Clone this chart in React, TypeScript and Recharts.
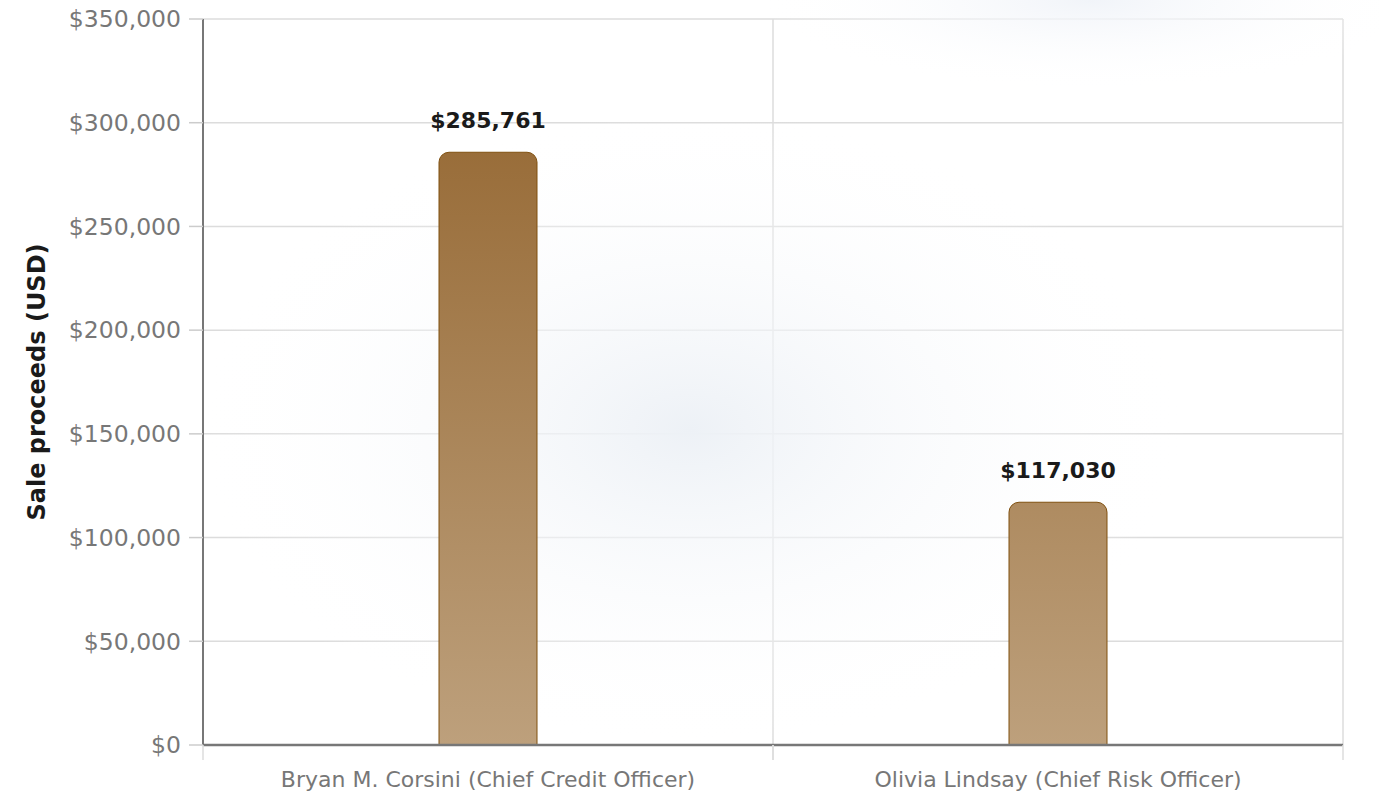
import { BarChart, Bar, CartesianGrid, XAxis, YAxis, LabelList } from "recharts";

const officers = [
    "Bryan M. Corsini (Chief Credit Officer)",
    "Olivia Lindsay (Chief Risk Officer)",
];
const proceeds = [285761, 117030];
const yTicks = [0, 50000, 100000, 150000, 200000, 250000, 300000, 350000];

const data = officers.map((name, i) => ({ name, proceeds: proceeds[i] }));

const money = (v: number) => `$${v.toLocaleString("en-US")}`;
const FONT = "DejaVu Sans, sans-serif";

// x tick: label in the middle, small tick marks at the band edges
function XTick(props: any) {
    const { x, y, payload } = props;
    const half = payload?.offset ?? 0;
    return (
        <g>
            <line x1={x - half} x2={x - half} y1={y - 8} y2={y + 7} stroke="#dddddd" strokeWidth={1.5} />
            <line x1={x + half} x2={x + half} y1={y - 8} y2={y + 7} stroke="#dddddd" strokeWidth={1.5} />
            <text x={x} y={y + 34} textAnchor="middle" fill="#777777" fontSize={22} fontFamily={FONT}>
                {payload.value}
            </text>
        </g>
    );
}

export default function App() {
    return (
        <div style={{ position: "absolute", left: 0, top: 0, width: 1380, height: 808, background: "#ffffff", overflow: "hidden" }}>
            <BarChart
                width={1380}
                height={808}
                data={data}
                margin={{ top: 19, right: 37, bottom: 0, left: 0 }}
                barCategoryGap={0}
            >
                <defs>
                    <radialGradient
                        id="bgGlow"
                        cx="0"
                        cy="0"
                        r="1"
                        gradientUnits="userSpaceOnUse"
                        gradientTransform="translate(690 430) scale(500 320)"
                    >
                        <stop offset="0%" stopColor="#edf1f6" stopOpacity={1} />
                        <stop offset="100%" stopColor="#ffffff" stopOpacity={0} />
                    </radialGradient>
                    <radialGradient
                        id="bgGlow2"
                        cx="0"
                        cy="0"
                        r="1"
                        gradientUnits="userSpaceOnUse"
                        gradientTransform="translate(1090 0) scale(330 90)"
                    >
                        <stop offset="0%" stopColor="#f1f4f9" stopOpacity={1} />
                        <stop offset="100%" stopColor="#ffffff" stopOpacity={0} />
                    </radialGradient>
                    <linearGradient id="barFill" x1="0" y1="19" x2="0" y2="745" gradientUnits="userSpaceOnUse">
                        <stop offset="0%" stopColor="#91622b" />
                        <stop offset="100%" stopColor="#bda07c" />
                    </linearGradient>
                </defs>
                <rect x={0} y={0} width={1380} height={808} fill="url(#bgGlow2)" />
                <rect x={0} y={0} width={1380} height={808} fill="url(#bgGlow)" />
                <CartesianGrid
                    stroke="#dcdcdc"
                    strokeWidth={1.5}
                    verticalCoordinatesGenerator={({ offset }: any) => [
                        offset.left + offset.width / 2,
                        offset.left + offset.width,
                    ]}
                />
                <XAxis
                    dataKey="name"
                    height={63}
                    axisLine={{ stroke: "#777777", strokeWidth: 2.5 }}
                    tickLine={false}
                    tick={<XTick />}
                    interval={0}
                />
                <YAxis
                    width={203}
                    domain={[0, 350000]}
                    ticks={yTicks}
                    tickFormatter={money}
                    axisLine={{ stroke: "#777777", strokeWidth: 2 }}
                    tickLine={{ stroke: "#cccccc", strokeWidth: 1.5 }}
                    tickSize={14}
                    tickMargin={8}
                    tick={{ fill: "#777777", fontSize: 23.5, fontFamily: FONT }}
                    label={{
                        value: "Sale proceeds (USD)",
                        angle: -90,
                        position: "insideLeft",
                        offset: 36,
                        style: { fill: "#1a1a1a", fontSize: 24, fontWeight: "bold", fontFamily: FONT, textAnchor: "middle" },
                    }}
                />
                <Bar
                    dataKey="proceeds"
                    barSize={98}
                    fill="url(#barFill)"
                    stroke="#80500f"
                    strokeWidth={1}
                    radius={[10, 10, 0, 0]}
                    isAnimationActive={false}
                >
                    <LabelList
                        dataKey="proceeds"
                        position="top"
                        offset={24}
                        formatter={(v: any) => money(Number(v))}
                        style={{ fill: "#1a1a1a", fontSize: 22, fontWeight: "bold", fontFamily: FONT }}
                    />
                </Bar>
            </BarChart>
        </div>
    );
}
